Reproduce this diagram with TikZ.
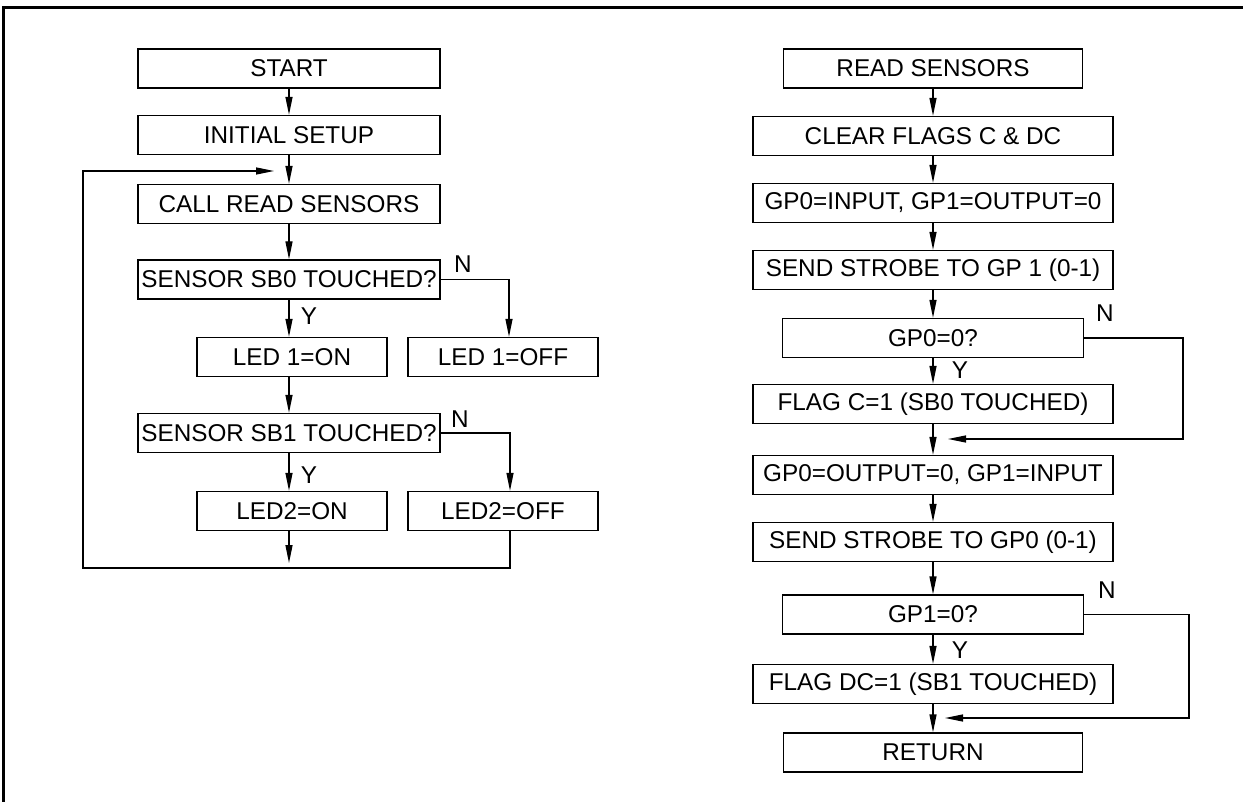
\documentclass[tikz,border=0pt]{standalone}
\usepackage{fontspec}
\setmainfont{Liberation Sans}
\usetikzlibrary{arrows.meta,positioning}

\begin{document}
\begin{tikzpicture}[x=1pt,y=-1pt,font=\fontsize{24.3}{28}\selectfont,
box/.style={draw,line width=1.3pt,minimum height=39pt,inner sep=0pt,align=center},
arr/.style={-{Triangle[length=18pt,width=7pt]},line width=1.3pt},
ln/.style={line width=1.3pt},
lbl/.style={inner sep=0pt}]
\useasboundingbox (0,0) rectangle (1243,802);
\draw[line width=3pt] (3,802) -- (3,8) -- (1243,8);
% main loop
\node[box,minimum width=302pt] (start) at (289,68.5) {START};
\node[box,minimum width=302pt] (init) at (289,135) {INITIAL SETUP};
\node[box,minimum width=302pt] (call) at (289,204) {CALL READ SENSORS};
\node[box,minimum width=302pt] (sbzero) at (289,279.5) {SENSOR SB0 TOUCHED?};
\node[box,minimum width=190pt] (ledoneon) at (292,357) {LED 1=ON};
\node[box,minimum width=190pt] (ledoneoff) at (503,357) {LED 1=OFF};
\node[box,minimum width=302pt] (sbone) at (289,433) {SENSOR SB1 TOUCHED?};
\node[box,minimum width=190pt] (ledtwoon) at (292,511) {LED2=ON};
\node[box,minimum width=190pt] (ledtwooff) at (503,511) {LED2=OFF};
\node[lbl] (nzero) at (463,264) {N};
\node[lbl] (yzero) at (309,316) {Y};
\node[lbl] (none) at (460,419) {N};
\node[lbl] (yone) at (309,475) {Y};
\coordinate (back) at (274,171);
\coordinate (join) at (289,563);
\draw[arr] (start) -- (init);
\draw[arr] (init.south) -- (call.north -| init.south);
\draw[arr] (call) -- (sbzero);
\draw[arr] (sbzero.south) -- (sbzero.south |- ledoneon.north);
\draw[arr] (sbzero.east) -| ([xshift=6pt]ledoneoff.north);
\draw[arr] (ledoneon.south -| sbzero.south) -- (sbone.north);
\draw[arr] (sbone.south) -- (sbone.south |- ledtwoon.north);
\draw[arr] (sbone.east) -| ([xshift=7pt]ledtwooff.north);
\draw[arr] (ledtwoon.south -| sbone.south) -- (join);
\draw[arr] ([xshift=7pt]ledtwooff.south) |- (83,568) |- (back);
% read sensors routine
\node[box,minimum width=299pt] (rs) at (933,68.5) {READ SENSORS};
\node[box,minimum width=360pt] (clr) at (933,136) {CLEAR FLAGS C \& DC};
\node[box,minimum width=360pt] (gpin) at (933,203) {GP0=INPUT, GP1=OUTPUT=0};
\node[box,minimum width=360pt] (strobeone) at (933,270) {SEND STROBE TO GP 1 (0-1)};
\node[box,minimum width=301pt] (gpzero) at (933,338) {GP0=0?};
\node[box,minimum width=360pt] (flagc) at (933,404) {FLAG C=1 (SB0 TOUCHED)};
\node[box,minimum width=360pt] (gpout) at (933,475) {GP0=OUTPUT=0, GP1=INPUT};
\node[box,minimum width=360pt] (strobezero) at (933,542) {SEND STROBE TO GP0 (0-1)};
\node[box,minimum width=301pt] (gpone) at (933,614.5) {GP1=0?};
\node[box,minimum width=360pt] (flagdc) at (933,684) {FLAG DC=1 (SB1 TOUCHED)};
\node[box,minimum width=299pt] (ret) at (933,752.5) {RETURN};
\node[lbl] (ngpzero) at (1105,313) {N};
\node[lbl] (ygpzero) at (960,370) {Y};
\node[lbl] (ngpone) at (1107,590) {N};
\node[lbl] (ygpone) at (960,650) {Y};
\coordinate (skipc) at (948,439);
\coordinate (skipdc) at (945,718);
\draw[arr] (rs) -- (clr);
\draw[arr] (clr) -- (gpin);
\draw[arr] (gpin) -- (strobeone);
\draw[arr] (strobeone) -- (gpzero);
\draw[arr] (gpzero) -- (flagc);
\draw[arr] (flagc) -- (gpout);
\draw[arr] (gpout) -- (strobezero);
\draw[arr] (strobezero) -- (gpone);
\draw[arr] (gpone) -- (flagdc);
\draw[arr] (flagdc) -- (ret);
\draw[arr] (gpzero.east) -- (1183,338) |- (skipc);
\draw[arr] (gpone.east) -- (1189,614.5) |- (skipdc);
\end{tikzpicture}
\end{document}
